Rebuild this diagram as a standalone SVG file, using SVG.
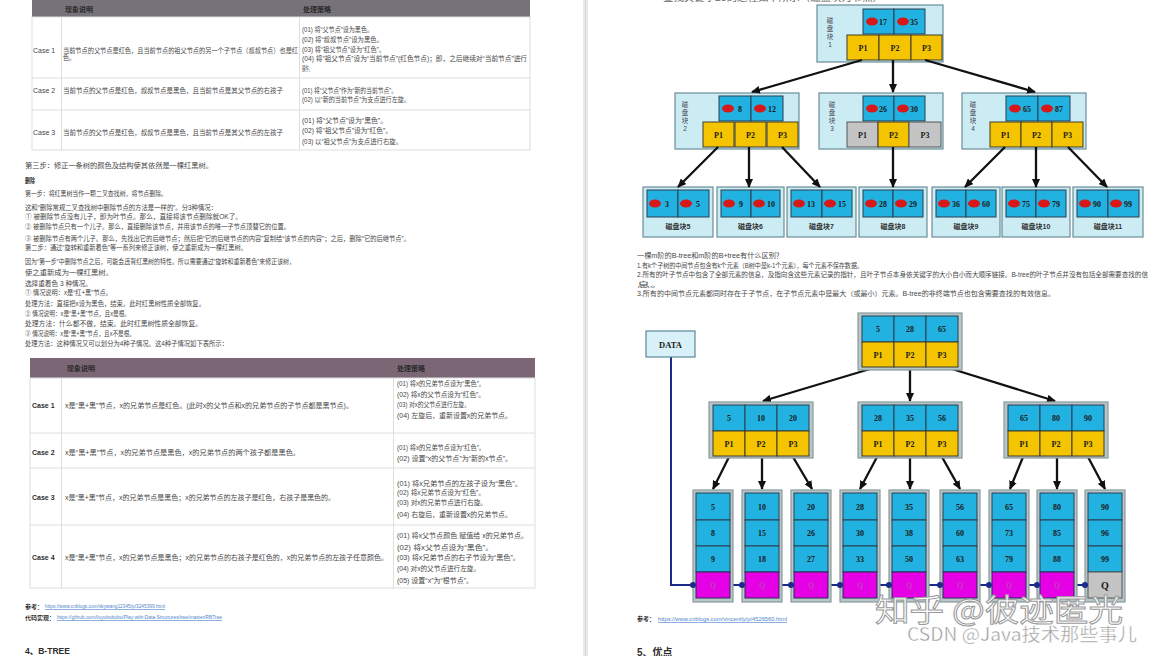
<svg xmlns="http://www.w3.org/2000/svg" width="1152" height="656" viewBox="0 0 1152 656">
<defs>
<style>
text{font-family:"Liberation Sans","Noto Sans CJK SC",sans-serif;}
.t{font-size:7px;fill:#474747;}
.tb{font-size:7px;fill:#2e2e2e;font-weight:bold;}
.hd{font-size:7px;fill:#2a2a2a;font-weight:bold;}
.lnk{font-size:6px;fill:#4f86cc;}
.ul{stroke:#6d9ad6;stroke-width:0.8;}
.grid{stroke:#dedede;stroke-width:1;fill:none;}
.frame{fill:#ccecf3;stroke:#6a8c98;stroke-width:1.2;}
.frame2{fill:#b6c6c9;stroke:#8a9a9c;stroke-width:1.2;}
.key{fill:#22b2e2;stroke:#2a3e4e;stroke-width:1;}
.ptr{fill:#f4c400;stroke:#3e3a28;stroke-width:1;}
.gry{fill:#c4c4c4;stroke:#555;stroke-width:1;}
.mag{fill:#e600e6;stroke:#2a2a5a;stroke-width:1;}
.blob{fill:#d81818;}
.kt{font-family:"Liberation Serif",serif;font-size:8px;font-weight:bold;fill:#1a1a1a;text-anchor:middle;}
.lb{font-size:7px;font-weight:bold;fill:#333;text-anchor:middle;}
.vl{font-size:6.5px;fill:#445;text-anchor:middle;}
.arr{stroke:#111;stroke-width:2.3;fill:none;marker-end:url(#ah);}
.chain{stroke:#1c2a8a;stroke-width:2;fill:none;}
.dot{fill:#1c2a8a;}
</style>
<marker id="ah" markerUnits="userSpaceOnUse" markerWidth="9" markerHeight="8" refX="8" refY="4" orient="auto">
<path d="M0,0 L9,4 L0,8 Z" fill="#111"/>
</marker>
</defs>

<rect x="0" y="0" width="1152" height="656" fill="#fbfcfd"/>
<rect x="0" y="0" width="583" height="656" fill="#ffffff"/>
<rect x="588" y="0" width="564" height="656" fill="#ffffff"/>
<rect x="583" y="0" width="5" height="656" fill="#e9e9eb"/>
<line x1="585.5" y1="0" x2="585.5" y2="656" stroke="#d6d6d8" stroke-width="1"/>

<!-- LEFT PAGE -->
<g id="table1">
<rect x="32" y="0" width="498" height="17" fill="#76727a"/>
<text class="hd" x="65" y="11.5">现象说明</text>
<text class="hd" x="303" y="11.5">处理策略</text>
<rect x="32" y="17" width="498" height="133" fill="#ffffff" class="grid"/>
<line class="grid" x1="32" y1="78" x2="530" y2="78"/>
<line class="grid" x1="32" y1="110" x2="530" y2="110"/>
<line class="grid" x1="61.5" y1="17" x2="61.5" y2="150"/>
<line class="grid" x1="299.5" y1="17" x2="299.5" y2="150"/>
<text class="t" x="33" y="52.5">Case 1</text>
<text class="t" x="63" y="52.5" textLength="235" lengthAdjust="spacingAndGlyphs">当前节点的父节点是红色，且当前节点的祖父节点的另一个子节点（叔叔节点）也是红</text>
<text class="t" x="63" y="60" textLength="12" lengthAdjust="spacingAndGlyphs">色。</text>
<text class="t" x="302" y="31.5" textLength="71" lengthAdjust="spacingAndGlyphs">(01) 将“父节点”设为黑色。</text>
<text class="t" x="302" y="41.5" textLength="81" lengthAdjust="spacingAndGlyphs">(02) 将“叔叔节点”设为黑色。</text>
<text class="t" x="302" y="51.5" textLength="83" lengthAdjust="spacingAndGlyphs">(03) 将“祖父节点”设为“红色”。</text>
<text class="t" x="302" y="60.5" textLength="225" lengthAdjust="spacingAndGlyphs">(04) 将“祖父节点”设为“当前节点”(红色节点)；即，之后继续对“当前节点”进行</text>
<text class="t" x="302" y="70.5" textLength="10" lengthAdjust="spacingAndGlyphs">操作。</text>
<text class="t" x="33" y="92.5">Case 2</text>
<text class="t" x="63" y="92.5" textLength="220" lengthAdjust="spacingAndGlyphs">当前节点的父节点是红色，叔叔节点是黑色，且当前节点是其父节点的右孩子</text>
<text class="t" x="302" y="92.5" textLength="95" lengthAdjust="spacingAndGlyphs">(01) 将“父节点”作为“新的当前节点”。</text>
<text class="t" x="302" y="101.5" textLength="108" lengthAdjust="spacingAndGlyphs">(02) 以“新的当前节点”为支点进行左旋。</text>
<text class="t" x="33" y="134.5">Case 3</text>
<text class="t" x="63" y="134.5" textLength="220" lengthAdjust="spacingAndGlyphs">当前节点的父节点是红色，叔叔节点是黑色，且当前节点是其父节点的左孩子</text>
<text class="t" x="302" y="122.5" textLength="85" lengthAdjust="spacingAndGlyphs">(01) 将“父节点”设为“黑色”。</text>
<text class="t" x="302" y="132.5" textLength="90" lengthAdjust="spacingAndGlyphs">(02) 将“祖父节点”设为“红色”。</text>
<text class="t" x="302" y="143.5" textLength="100" lengthAdjust="spacingAndGlyphs">(03) 以“祖父节点”为支点进行右旋。</text>
</g>

<g id="left-text">
<text class="t" x="25" y="167.5" textLength="188" lengthAdjust="spacingAndGlyphs">第三步：修正一条树的颜色及结构使其依然是一棵红黑树。</text>
<text class="tb" x="25" y="182.5" textLength="10" lengthAdjust="spacingAndGlyphs">删除</text>
<text class="t" x="25" y="195.5" textLength="142" lengthAdjust="spacingAndGlyphs">第一步：将红黑树当作一颗二叉查找树，将节点删除。</text>
<text class="t" x="25" y="209.5" textLength="192" lengthAdjust="spacingAndGlyphs">这和“删除常规二叉查找树中删除节点的方法是一样的”。分3种情况：</text>
<text class="t" x="25" y="218.5" textLength="217" lengthAdjust="spacingAndGlyphs">① 被删除节点没有儿子，即为叶节点。那么，直接将该节点删除就OK了。</text>
<text class="t" x="25" y="228.5" textLength="265" lengthAdjust="spacingAndGlyphs">② 被删除节点只有一个儿子。那么，直接删除该节点，并用该节点的唯一子节点顶替它的位置。</text>
<text class="t" x="25" y="240.5" textLength="385" lengthAdjust="spacingAndGlyphs">③ 被删除节点有两个儿子。那么，先找出它的后继节点；然后把“它的后继节点的内容”复制给“该节点的内容”；之后，删除“它的后继节点”。</text>
<text class="t" x="25" y="249.5" textLength="222" lengthAdjust="spacingAndGlyphs">第二步：通过“旋转和重新着色”等一系列来修正该树，使之重新成为一棵红黑树。</text>
<text class="t" x="25" y="263.5" textLength="270" lengthAdjust="spacingAndGlyphs">因为“第一步”中删除节点之后，可能会违背红黑树的特性。所以需要通过“旋转和重新着色”来修正该树，</text>
<text class="t" x="25" y="274.5" textLength="88" lengthAdjust="spacingAndGlyphs">使之重新成为一棵红黑树。</text>
<text class="t" x="25" y="285.5" textLength="67" lengthAdjust="spacingAndGlyphs">选择重着色 3 种情况。</text>
<text class="t" x="25" y="294.5" textLength="87" lengthAdjust="spacingAndGlyphs">① 情况说明：x是“红+黑”节点。</text>
<text class="t" x="25" y="305.5" textLength="180" lengthAdjust="spacingAndGlyphs">处理方法：直接把x设为黑色，结束。此时红黑树性质全部恢复。</text>
<text class="t" x="25" y="315.5" textLength="105" lengthAdjust="spacingAndGlyphs">② 情况说明：x是“黑+黑”节点，且x是根。</text>
<text class="t" x="25" y="325.5" textLength="177" lengthAdjust="spacingAndGlyphs">处理方法：什么都不做，结束。此时红黑树性质全部恢复。</text>
<text class="t" x="25" y="335.5" textLength="110" lengthAdjust="spacingAndGlyphs">③ 情况说明：x是“黑+黑”节点，且x不是根。</text>
<text class="t" x="25" y="345.5" textLength="203" lengthAdjust="spacingAndGlyphs">处理方法：这种情况又可以划分为4种子情况。这4种子情况如下表所示：</text>
</g>

<g id="table2">
<rect x="30" y="358" width="505" height="20" fill="#7b6676"/>
<text class="hd" x="67" y="370.5">现象说明</text>
<text class="hd" x="397" y="370.5">处理策略</text>
<rect x="30" y="378" width="505" height="210" fill="#ffffff" class="grid"/>
<line class="grid" x1="30" y1="433" x2="535" y2="433"/>
<line class="grid" x1="30" y1="468" x2="535" y2="468"/>
<line class="grid" x1="30" y1="525" x2="535" y2="525"/>
<line class="grid" x1="61.5" y1="378" x2="61.5" y2="588"/>
<line class="grid" x1="393.5" y1="378" x2="393.5" y2="588"/>
<text class="tb" x="32" y="407.5">Case 1</text>
<text class="t" x="65" y="407.5" textLength="288" lengthAdjust="spacingAndGlyphs">x是“黑+黑”节点，x的兄弟节点是红色。(此时x的父节点和x的兄弟节点的子节点都是黑节点)。</text>
<text class="t" x="397" y="385.5" textLength="88" lengthAdjust="spacingAndGlyphs">(01) 将x的兄弟节点设为“黑色”。</text>
<text class="t" x="397" y="396.5" textLength="88" lengthAdjust="spacingAndGlyphs">(02) 将x的父节点设为“红色”。</text>
<text class="t" x="397" y="406.5" textLength="73" lengthAdjust="spacingAndGlyphs">(03) 对x的父节点进行左旋。</text>
<text class="t" x="397" y="417.5" textLength="115" lengthAdjust="spacingAndGlyphs">(04) 左旋后，重新设置x的兄弟节点。</text>
<text class="tb" x="32" y="454.5">Case 2</text>
<text class="t" x="65" y="454.5" textLength="235" lengthAdjust="spacingAndGlyphs">x是“黑+黑”节点，x的兄弟节点是黑色，x的兄弟节点的两个孩子都是黑色。</text>
<text class="t" x="397" y="449.5" textLength="88" lengthAdjust="spacingAndGlyphs">(01) 将x的兄弟节点设为“红色”。</text>
<text class="t" x="397" y="460.5" textLength="115" lengthAdjust="spacingAndGlyphs">(02) 设置“x的父节点”为“新的x节点”。</text>
<text class="tb" x="32" y="499.5">Case 3</text>
<text class="t" x="65" y="499.5" textLength="270" lengthAdjust="spacingAndGlyphs">x是“黑+黑”节点，x的兄弟节点是黑色；x的兄弟节点的左孩子是红色，右孩子是黑色的。</text>
<text class="t" x="397" y="485.5" textLength="125" lengthAdjust="spacingAndGlyphs">(01) 将x兄弟节点的左孩子设为“黑色”。</text>
<text class="t" x="397" y="494.5" textLength="88" lengthAdjust="spacingAndGlyphs">(02) 将x兄弟节点设为“红色”。</text>
<text class="t" x="397" y="504.5" textLength="90" lengthAdjust="spacingAndGlyphs">(03) 对x的兄弟节点进行右旋。</text>
<text class="t" x="397" y="516.5" textLength="115" lengthAdjust="spacingAndGlyphs">(04) 右旋后，重新设置x的兄弟节点。</text>
<text class="tb" x="32" y="559.5">Case 4</text>
<text class="t" x="65" y="559.5" textLength="323" lengthAdjust="spacingAndGlyphs">x是“黑+黑”节点，x的兄弟节点是黑色；x的兄弟节点的右孩子是红色的，x的兄弟节点的左孩子任意颜色。</text>
<text class="t" x="397" y="537.5" textLength="131" lengthAdjust="spacingAndGlyphs">(01) 将x父节点颜色 赋值给 x的兄弟节点。</text>
<text class="t" x="397" y="549.5" textLength="96" lengthAdjust="spacingAndGlyphs">(02) 将x父节点设为“黑色”。</text>
<text class="t" x="397" y="559.5" textLength="123" lengthAdjust="spacingAndGlyphs">(03) 将x兄弟节点的右子节设为“黑色”。</text>
<text class="t" x="397" y="570.5" textLength="83" lengthAdjust="spacingAndGlyphs">(04) 对x的父节点进行左旋。</text>
<text class="t" x="397" y="582.5" textLength="76" lengthAdjust="spacingAndGlyphs">(05) 设置“x”为“根节点”。</text>
</g>

<g id="left-refs">
<text class="tb" x="25" y="608.5" style="font-size:6px">参考：</text>
<text class="lnk" x="45" y="608" textLength="120" lengthAdjust="spacingAndGlyphs">https://www.cnblogs.com/skywang12345/p/3245399.html</text>
<line class="ul" x1="45" y1="609.5" x2="165" y2="609.5"/>
<text class="tb" x="25" y="619.5" style="font-size:6px">代码实现：</text>
<text class="lnk" x="57" y="619" textLength="165" lengthAdjust="spacingAndGlyphs">https://github.com/liuyubobobo/Play-with-Data-Structures/tree/master/RBTree</text>
<line class="ul" x1="57" y1="620.5" x2="222" y2="620.5"/>
<text class="tb" x="25" y="654" style="font-size:8.5px">4、B-TREE</text>
</g>

<!-- RIGHT PAGE -->
<text class="t" x="663" y="1" textLength="220" lengthAdjust="spacingAndGlyphs" style="font-size:9px;fill:#666">查找关键字29的过程如下所示（磁盘块为节点）</text>

<g id="btree-root">
<rect class="frame" x="817" y="5" width="126" height="57"/>
<text class="vl" x="830" y="22.5">磁</text><text class="vl" x="830" y="30.5">盘</text><text class="vl" x="830" y="38.5">块</text><text class="vl" x="830" y="46.5">1</text>
<rect class="key" x="863" y="9" width="31" height="25"/><rect class="key" x="894" y="9" width="31" height="25"/>
<ellipse class="blob" cx="872" cy="21.5" rx="6" ry="4"/><text class="kt" x="883" y="24.5">17</text>
<ellipse class="blob" cx="903" cy="21.5" rx="6" ry="4"/><text class="kt" x="914" y="24.5">35</text>
<rect class="ptr" x="847" y="35" width="32" height="25"/><rect class="ptr" x="879" y="35" width="32" height="25"/><rect class="ptr" x="911" y="35" width="31" height="25"/>
<text class="kt" x="863" y="50.5">P1</text><text class="kt" x="895" y="50.5">P2</text><text class="kt" x="926.5" y="50.5">P3</text>
</g>

<g id="btree-n2">
<rect class="frame" x="675" y="93" width="124" height="56"/>
<text class="vl" x="685" y="106.5">磁</text><text class="vl" x="685" y="114.5">盘</text><text class="vl" x="685" y="122.5">块</text><text class="vl" x="685" y="130.5">2</text>
<rect class="key" x="719" y="96" width="32" height="25"/><rect class="key" x="751" y="96" width="32" height="25"/>
<ellipse class="blob" cx="728" cy="108.5" rx="6" ry="4"/><text class="kt" x="740" y="111.5">8</text>
<ellipse class="blob" cx="760" cy="108.5" rx="6" ry="4"/><text class="kt" x="772" y="111.5">12</text>
<rect class="ptr" x="703" y="122" width="31" height="25"/><rect class="ptr" x="735" y="122" width="31" height="25"/><rect class="ptr" x="767" y="122" width="31" height="25"/>
<text class="kt" x="718.5" y="137.5">P1</text><text class="kt" x="750.5" y="137.5">P2</text><text class="kt" x="782.5" y="137.5">P3</text>
</g>

<g id="btree-n3">
<rect class="frame" x="819" y="93" width="124" height="56"/>
<text class="vl" x="832" y="106.5">磁</text><text class="vl" x="832" y="114.5">盘</text><text class="vl" x="832" y="122.5">块</text><text class="vl" x="832" y="130.5">3</text>
<rect class="key" x="863" y="96" width="31" height="25"/><rect class="key" x="894" y="96" width="31" height="25"/>
<ellipse class="blob" cx="872" cy="108.5" rx="6" ry="4"/><text class="kt" x="883" y="111.5">26</text>
<ellipse class="blob" cx="903" cy="108.5" rx="6" ry="4"/><text class="kt" x="914" y="111.5">30</text>
<rect class="gry" x="847" y="122" width="31" height="25"/><rect class="ptr" x="878" y="122" width="31" height="25"/><rect class="gry" x="909" y="122" width="32" height="25"/>
<text class="kt" x="862.5" y="137.5">P1</text><text class="kt" x="893.5" y="137.5">P2</text><text class="kt" x="925" y="137.5">P3</text>
</g>

<g id="btree-n4">
<rect class="frame" x="962" y="93" width="124" height="56"/>
<text class="vl" x="973" y="106.5">磁</text><text class="vl" x="973" y="114.5">盘</text><text class="vl" x="973" y="122.5">块</text><text class="vl" x="973" y="130.5">4</text>
<rect class="key" x="1006" y="96" width="32" height="25"/><rect class="key" x="1038" y="96" width="32" height="25"/>
<ellipse class="blob" cx="1015" cy="108.5" rx="6" ry="4"/><text class="kt" x="1027" y="111.5">65</text>
<ellipse class="blob" cx="1047" cy="108.5" rx="6" ry="4"/><text class="kt" x="1059" y="111.5">87</text>
<rect class="ptr" x="990" y="122" width="31" height="25"/><rect class="ptr" x="1021" y="122" width="31" height="25"/><rect class="ptr" x="1052" y="122" width="31" height="25"/>
<text class="kt" x="1005.5" y="137.5">P1</text><text class="kt" x="1036.5" y="137.5">P2</text><text class="kt" x="1067.5" y="137.5">P3</text>
</g>

<g id="btree-leaf5">
<rect class="frame" x="643" y="187" width="70" height="50"/>
<rect class="key" x="647" y="190" width="31" height="27"/><rect class="key" x="678" y="190" width="31" height="27"/>
<ellipse class="blob" cx="655" cy="203.5" rx="6" ry="4"/><text class="kt" x="667" y="206.5">3</text>
<ellipse class="blob" cx="686" cy="203.5" rx="6" ry="4"/><text class="kt" x="698" y="206.5">5</text>
<text class="lb" x="678" y="229">磁盘块5</text>
</g>
<g id="btree-leaf6">
<rect class="frame" x="717" y="187" width="67" height="50"/>
<rect class="key" x="721" y="190" width="30" height="27"/><rect class="key" x="751" y="190" width="29" height="27"/>
<ellipse class="blob" cx="729" cy="203.5" rx="6" ry="4"/><text class="kt" x="741" y="206.5">9</text>
<ellipse class="blob" cx="759" cy="203.5" rx="6" ry="4"/><text class="kt" x="771" y="206.5">10</text>
<text class="lb" x="750.5" y="229">磁盘块6</text>
</g>
<g id="btree-leaf7">
<rect class="frame" x="787" y="187" width="69" height="50"/>
<rect class="key" x="791" y="190" width="31" height="27"/><rect class="key" x="822" y="190" width="30" height="27"/>
<ellipse class="blob" cx="799" cy="203.5" rx="6" ry="4"/><text class="kt" x="811" y="206.5">13</text>
<ellipse class="blob" cx="830" cy="203.5" rx="6" ry="4"/><text class="kt" x="842" y="206.5">15</text>
<text class="lb" x="821.5" y="229">磁盘块7</text>
</g>
<g id="btree-leaf8">
<rect class="frame" x="859" y="187" width="68" height="50"/>
<rect class="key" x="863" y="190" width="30" height="27"/><rect class="key" x="893" y="190" width="30" height="27"/>
<ellipse class="blob" cx="871" cy="203.5" rx="6" ry="4"/><text class="kt" x="883" y="206.5">28</text>
<ellipse class="blob" cx="901" cy="203.5" rx="6" ry="4"/><text class="kt" x="913" y="206.5">29</text>
<text class="lb" x="893" y="229">磁盘块8</text>
</g>
<g id="btree-leaf9">
<rect class="frame" x="932" y="187" width="68" height="50"/>
<rect class="key" x="936" y="190" width="30" height="27"/><rect class="key" x="966" y="190" width="30" height="27"/>
<ellipse class="blob" cx="944" cy="203.5" rx="6" ry="4"/><text class="kt" x="956" y="206.5">36</text>
<ellipse class="blob" cx="974" cy="203.5" rx="6" ry="4"/><text class="kt" x="986" y="206.5">60</text>
<text class="lb" x="966" y="229">磁盘块9</text>
</g>
<g id="btree-leaf10">
<rect class="frame" x="1002" y="187" width="68" height="50"/>
<rect class="key" x="1006" y="190" width="30" height="27"/><rect class="key" x="1036" y="190" width="30" height="27"/>
<ellipse class="blob" cx="1014" cy="203.5" rx="6" ry="4"/><text class="kt" x="1026" y="206.5">75</text>
<ellipse class="blob" cx="1044" cy="203.5" rx="6" ry="4"/><text class="kt" x="1056" y="206.5">79</text>
<text class="lb" x="1036" y="229">磁盘块10</text>
</g>
<g id="btree-leaf11">
<rect class="frame" x="1073" y="187" width="70" height="50"/>
<rect class="key" x="1077" y="190" width="31" height="27"/><rect class="key" x="1108" y="190" width="31" height="27"/>
<ellipse class="blob" cx="1085" cy="203.5" rx="6" ry="4"/><text class="kt" x="1097" y="206.5">90</text>
<ellipse class="blob" cx="1116" cy="203.5" rx="6" ry="4"/><text class="kt" x="1128" y="206.5">99</text>
<text class="lb" x="1108" y="229">磁盘块11</text>
</g>

<g id="btree-connectors">
<line class="arr" x1="862" y1="60" x2="752" y2="92"/>
<line class="arr" x1="893" y1="60" x2="893" y2="92"/>
<line class="arr" x1="925" y1="60" x2="1035" y2="92"/>
<line class="arr" x1="718" y1="147" x2="678" y2="187"/>
<line class="arr" x1="749" y1="147" x2="749" y2="187"/>
<line class="arr" x1="782" y1="147" x2="820" y2="187"/>
<line class="arr" x1="893" y1="147" x2="893" y2="187"/>
<line class="arr" x1="1005" y1="147" x2="965" y2="187"/>
<line class="arr" x1="1036" y1="147" x2="1036" y2="187"/>
<line class="arr" x1="1068" y1="147" x2="1107" y2="187"/>
</g>

<g id="right-text">
<text class="t" x="637" y="257.5" style="font-size:6.5px" textLength="146" lengthAdjust="spacingAndGlyphs">一棵m阶的B-tree和m阶的B+tree有什么区别？</text>
<text class="t" x="637" y="267.5" style="font-size:6.5px" textLength="226" lengthAdjust="spacingAndGlyphs">1.有k个子树的中间节点包含有k个元素（B树中是k-1个元素），每个元素不保存数据。</text>
<text class="t" x="637" y="276.5" style="font-size:6.5px" textLength="511" lengthAdjust="spacingAndGlyphs">2.所有的叶子节点中包含了全部元素的信息，及指向含这些元素记录的指针，且叶子节点本身依关键字的大小自小而大顺序链接。B-tree的叶子节点并没有包括全部需要查找的信</text>
<text class="t" x="637" y="286.5" style="font-size:6.5px" textLength="26" lengthAdjust="spacingAndGlyphs">息。</text>
<text class="t" x="637" y="295.5" style="font-size:6.5px" textLength="418" lengthAdjust="spacingAndGlyphs">3.所有的中间节点元素都同时存在于子节点，在子节点元素中是最大（或最小）元素。B-tree的非终端节点也包含需要查找的有效信息。</text>
</g>

<!-- B+ tree -->
<g id="bplus-connectors">
<polyline class="chain" points="671,357 671,585 1085,585"/>
<line class="arr" x1="870" y1="369" x2="763" y2="401"/>
<line class="arr" x1="910" y1="369" x2="910" y2="401"/>
<line class="arr" x1="952" y1="369" x2="1055" y2="401"/>
<line class="arr" x1="729" y1="457" x2="713" y2="489"/>
<line class="arr" x1="762" y1="457" x2="762" y2="489"/>
<line class="arr" x1="793" y1="457" x2="812" y2="489"/>
<line class="arr" x1="877" y1="457" x2="860" y2="489"/>
<line class="arr" x1="910" y1="457" x2="910" y2="489"/>
<line class="arr" x1="942" y1="457" x2="960" y2="489"/>
<line class="arr" x1="1023" y1="457" x2="1010" y2="489"/>
<line class="arr" x1="1057" y1="457" x2="1057" y2="489"/>
<line class="arr" x1="1088" y1="457" x2="1105" y2="489"/>
</g>

<g id="data-box">
<rect x="646" y="331" width="49" height="26" fill="#d8f0f8" stroke="#5a8a9a" stroke-width="1.2"/>
<text class="kt" x="670.5" y="347.5" style="font-size:8.5px">DATA</text>
</g>

<g id="bp-root">
<rect class="frame2" x="858" y="313" width="104" height="57"/>
<rect class="key" x="862" y="316" width="32" height="26"/><rect class="key" x="894" y="316" width="32" height="26"/><rect class="key" x="926" y="316" width="32" height="26"/>
<rect class="ptr" x="862" y="342" width="32" height="25"/><rect class="ptr" x="894" y="342" width="32" height="25"/><rect class="ptr" x="926" y="342" width="32" height="25"/>
<text class="kt" x="878" y="332">5</text><text class="kt" x="910" y="332">28</text><text class="kt" x="942" y="332">65</text>
<text class="kt" x="878" y="357.5">P1</text><text class="kt" x="910" y="357.5">P2</text><text class="kt" x="942" y="357.5">P3</text>
</g>

<g id="bp-n1">
<rect class="frame2" x="709" y="402" width="104" height="56"/>
<rect class="key" x="713" y="405" width="32" height="26"/><rect class="key" x="745" y="405" width="32" height="26"/><rect class="key" x="777" y="405" width="32" height="26"/>
<rect class="ptr" x="713" y="431" width="32" height="25"/><rect class="ptr" x="745" y="431" width="32" height="25"/><rect class="ptr" x="777" y="431" width="32" height="25"/>
<text class="kt" x="729" y="421">5</text><text class="kt" x="761" y="421">10</text><text class="kt" x="793" y="421">20</text>
<text class="kt" x="729" y="446.5">P1</text><text class="kt" x="761" y="446.5">P2</text><text class="kt" x="793" y="446.5">P3</text>
</g>
<g id="bp-n2">
<rect class="frame2" x="858" y="402" width="104" height="56"/>
<rect class="key" x="862" y="405" width="32" height="26"/><rect class="key" x="894" y="405" width="32" height="26"/><rect class="key" x="926" y="405" width="32" height="26"/>
<rect class="ptr" x="862" y="431" width="32" height="25"/><rect class="ptr" x="894" y="431" width="32" height="25"/><rect class="ptr" x="926" y="431" width="32" height="25"/>
<text class="kt" x="878" y="421">28</text><text class="kt" x="910" y="421">35</text><text class="kt" x="942" y="421">56</text>
<text class="kt" x="878" y="446.5">P1</text><text class="kt" x="910" y="446.5">P2</text><text class="kt" x="942" y="446.5">P3</text>
</g>
<g id="bp-n3">
<rect class="frame2" x="1004" y="402" width="104" height="56"/>
<rect class="key" x="1008" y="405" width="32" height="26"/><rect class="key" x="1040" y="405" width="32" height="26"/><rect class="key" x="1072" y="405" width="32" height="26"/>
<rect class="ptr" x="1008" y="431" width="32" height="25"/><rect class="ptr" x="1040" y="431" width="32" height="25"/><rect class="ptr" x="1072" y="431" width="32" height="25"/>
<text class="kt" x="1024" y="421">65</text><text class="kt" x="1056" y="421">80</text><text class="kt" x="1088" y="421">90</text>
<text class="kt" x="1024" y="446.5">P1</text><text class="kt" x="1056" y="446.5">P2</text><text class="kt" x="1088" y="446.5">P3</text>
</g>

<g id="bp-leaf1"><rect class="frame2" x="693" y="490" width="40" height="112"/>
<rect class="key" x="696" y="493" width="34" height="27"/><rect class="key" x="696" y="520" width="34" height="26"/><rect class="key" x="696" y="546" width="34" height="26"/><rect class="mag" x="696" y="572" width="34" height="26"/>
<text class="kt" x="713" y="510">5</text><text class="kt" x="713" y="536">8</text><text class="kt" x="713" y="562">9</text><text class="kt" x="713" y="588" style="fill:#c43cc4">Q</text></g>
<g id="bp-leaf2"><rect class="frame2" x="742" y="490" width="40" height="112"/>
<rect class="key" x="745" y="493" width="34" height="27"/><rect class="key" x="745" y="520" width="34" height="26"/><rect class="key" x="745" y="546" width="34" height="26"/><rect class="mag" x="745" y="572" width="34" height="26"/>
<text class="kt" x="762" y="510">10</text><text class="kt" x="762" y="536">15</text><text class="kt" x="762" y="562">18</text><text class="kt" x="762" y="588" style="fill:#c43cc4">Q</text></g>
<g id="bp-leaf3"><rect class="frame2" x="791" y="490" width="40" height="112"/>
<rect class="key" x="794" y="493" width="34" height="27"/><rect class="key" x="794" y="520" width="34" height="26"/><rect class="key" x="794" y="546" width="34" height="26"/><rect class="mag" x="794" y="572" width="34" height="26"/>
<text class="kt" x="811" y="510">20</text><text class="kt" x="811" y="536">26</text><text class="kt" x="811" y="562">27</text><text class="kt" x="811" y="588" style="fill:#c43cc4">Q</text></g>
<g id="bp-leaf4"><rect class="frame2" x="840" y="490" width="40" height="112"/>
<rect class="key" x="843" y="493" width="34" height="27"/><rect class="key" x="843" y="520" width="34" height="26"/><rect class="key" x="843" y="546" width="34" height="26"/><rect class="mag" x="843" y="572" width="34" height="26"/>
<text class="kt" x="860" y="510">28</text><text class="kt" x="860" y="536">30</text><text class="kt" x="860" y="562">33</text><text class="kt" x="860" y="588" style="fill:#c43cc4">Q</text></g>
<g id="bp-leaf5"><rect class="frame2" x="889" y="490" width="40" height="112"/>
<rect class="key" x="892" y="493" width="34" height="27"/><rect class="key" x="892" y="520" width="34" height="26"/><rect class="key" x="892" y="546" width="34" height="26"/><rect class="mag" x="892" y="572" width="34" height="26"/>
<text class="kt" x="909" y="510">35</text><text class="kt" x="909" y="536">38</text><text class="kt" x="909" y="562">50</text><text class="kt" x="909" y="588" style="fill:#c43cc4">Q</text></g>
<g id="bp-leaf6"><rect class="frame2" x="940" y="490" width="40" height="112"/>
<rect class="key" x="943" y="493" width="34" height="27"/><rect class="key" x="943" y="520" width="34" height="26"/><rect class="key" x="943" y="546" width="34" height="26"/><rect class="mag" x="943" y="572" width="34" height="26"/>
<text class="kt" x="960" y="510">56</text><text class="kt" x="960" y="536">60</text><text class="kt" x="960" y="562">63</text><text class="kt" x="960" y="588" style="fill:#c43cc4">Q</text></g>
<g id="bp-leaf7"><rect class="frame2" x="989" y="490" width="40" height="112"/>
<rect class="key" x="992" y="493" width="34" height="27"/><rect class="key" x="992" y="520" width="34" height="26"/><rect class="key" x="992" y="546" width="34" height="26"/><rect class="mag" x="992" y="572" width="34" height="26"/>
<text class="kt" x="1009" y="510">65</text><text class="kt" x="1009" y="536">73</text><text class="kt" x="1009" y="562">79</text><text class="kt" x="1009" y="588" style="fill:#c43cc4">Q</text></g>
<g id="bp-leaf8"><rect class="frame2" x="1037" y="490" width="40" height="112"/>
<rect class="key" x="1040" y="493" width="34" height="27"/><rect class="key" x="1040" y="520" width="34" height="26"/><rect class="key" x="1040" y="546" width="34" height="26"/><rect class="mag" x="1040" y="572" width="34" height="26"/>
<text class="kt" x="1057" y="510">80</text><text class="kt" x="1057" y="536">85</text><text class="kt" x="1057" y="562">88</text><text class="kt" x="1057" y="588" style="fill:#c43cc4">Q</text></g>
<g id="bp-leaf9"><rect class="frame2" x="1085" y="490" width="40" height="112"/>
<rect class="key" x="1088" y="493" width="34" height="27"/><rect class="key" x="1088" y="520" width="34" height="26"/><rect class="key" x="1088" y="546" width="34" height="26"/><rect class="gry" x="1088" y="572" width="34" height="26"/>
<text class="kt" x="1105" y="510">90</text><text class="kt" x="1105" y="536">96</text><text class="kt" x="1105" y="562">99</text><text class="kt" x="1105" y="589" style="font-size:10px">Q</text></g>

<g id="chain-dots">
<circle class="dot" cx="693" cy="585" r="3"/><circle class="dot" cx="742" cy="585" r="3"/><circle class="dot" cx="791" cy="585" r="3"/>
<circle class="dot" cx="840" cy="585" r="3"/><circle class="dot" cx="889" cy="585" r="3"/><circle class="dot" cx="940" cy="585" r="3"/>
<circle class="dot" cx="989" cy="585" r="3"/><circle class="dot" cx="1037" cy="585" r="3"/><circle class="dot" cx="1085" cy="585" r="3"/>
</g>

<g id="right-refs">
<text class="tb" x="637" y="621" style="font-size:6px">参考：</text>
<text class="lnk" x="658" y="621" textLength="129" lengthAdjust="spacingAndGlyphs">https://www.cnblogs.com/vincently/p/4526560.html</text>
<line class="ul" x1="658" y1="622.5" x2="787" y2="622.5"/>
<text class="tb" x="637" y="656" style="font-size:10px">5、优点</text>
</g>

<g id="watermark">
<text x="875" y="621" style="font-size:31px;fill:#ffffff;stroke:#9a9a9a;stroke-width:1;font-family:'Noto Sans CJK SC',sans-serif" textLength="248" lengthAdjust="spacingAndGlyphs">知乎 @彼迹匿光</text>
<text x="907" y="641" style="font-size:18px;fill:#9c9c9c;stroke:#ffffff;stroke-width:0.4;font-family:'Noto Sans CJK SC',sans-serif" textLength="230" lengthAdjust="spacingAndGlyphs">CSDN @Java技术那些事儿</text>
</g>
</svg>
